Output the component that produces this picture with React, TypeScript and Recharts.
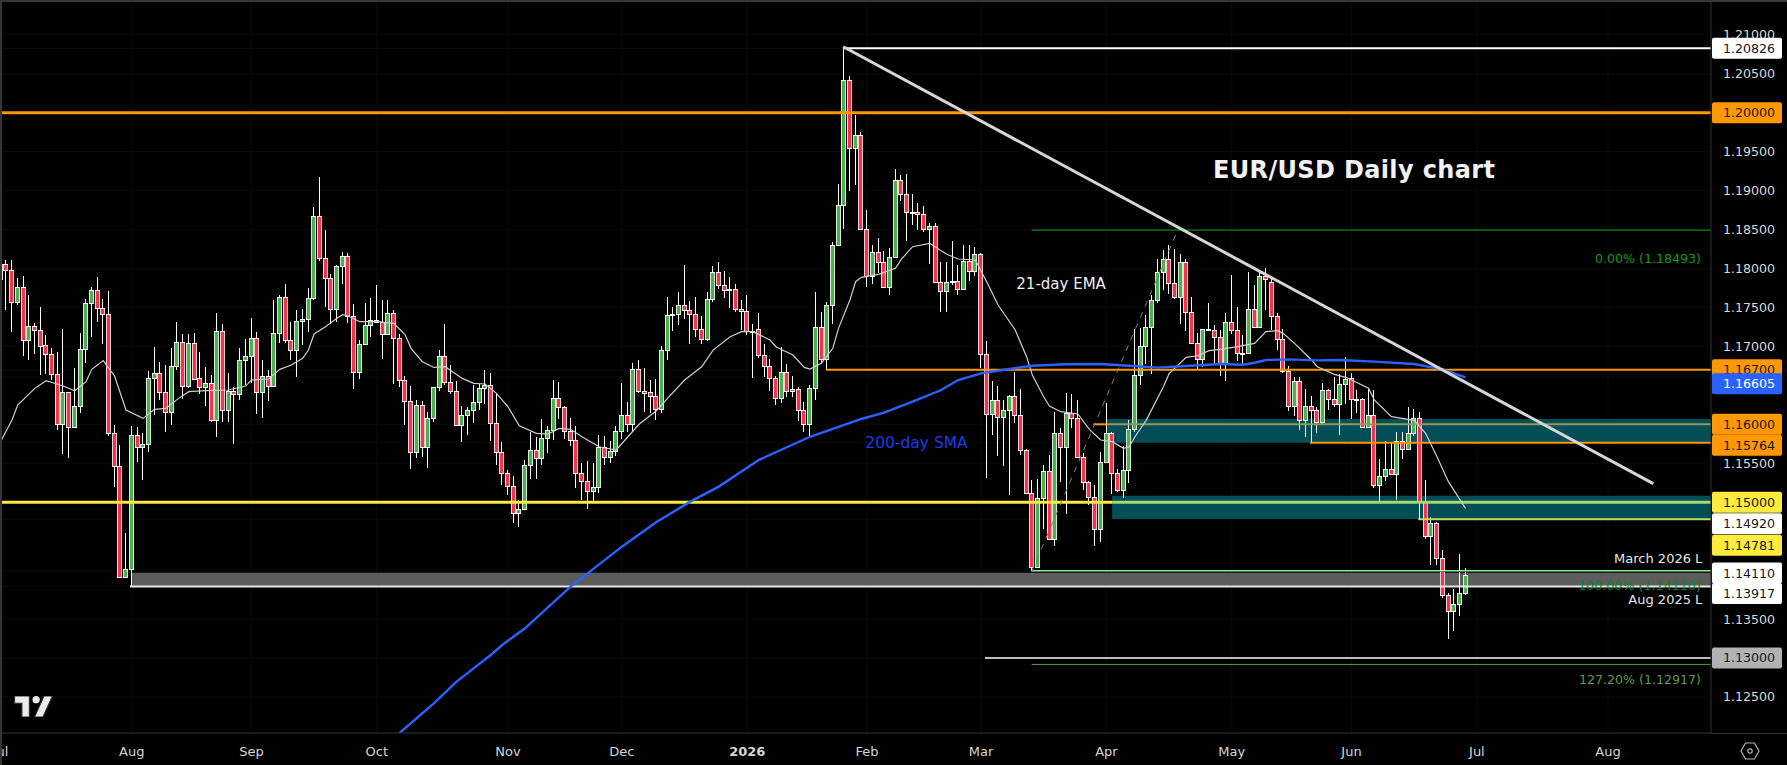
import { Bar, CartesianGrid, ComposedChart, Line, ReferenceArea, ReferenceDot, ReferenceLine, XAxis, YAxis } from "recharts";

// daily candles, 1 Jul 2025 - 29 Jun 2026 (index = trading day)
const opens = [
  1.17865,1.18054,1.17977,1.17566,1.17763,1.17078,1.17257,1.17206,1.17014,1.16898,
  1.16641,1.15999,1.1641,1.15961,1.1623,1.16962,1.17553,1.1772,1.17489,1.17412,
  1.15884,1.1546,1.14044,1.14138,1.15858,1.15712,1.15742,1.1659,1.16654,1.16419,
  1.16153,1.16744,1.17052,1.16487,1.17039,1.1659,1.16474,1.16526,1.16051,1.17193,
  1.16179,1.16423,1.16384,1.16821,1.16872,1.17103,1.1641,1.16615,1.16487,1.17168,
  1.1763,1.17078,1.16949,1.17321,1.17347,1.17617,1.18669,1.1813,1.17873,1.17475,
  1.1803,1.18156,1.17385,1.16666,1.17026,1.1727,1.17334,1.17308,1.17154,1.17424,
  1.17103,1.16564,1.16294,1.15639,1.16243,1.15703,1.16076,1.16474,1.16872,1.16538,
  1.16422,1.15986,1.16114,1.16179,1.16281,1.16461,1.165,1.16012,1.15639,1.1537,
  1.15204,1.14857,1.14917,1.15472,1.15665,1.15562,1.15819,1.15922,1.16333,1.16217,
  1.15909,1.15802,1.15371,1.15277,1.15148,1.152,1.15712,1.1558,1.1566,1.1592,
  1.1612,1.16,1.16705,1.16431,1.16409,1.16367,1.162,1.16949,1.17405,1.17411,
  1.17527,1.17463,1.17411,1.17219,1.17099,1.17604,1.17951,1.17792,1.1772,1.17732,
  1.17475,1.17458,1.17201,1.17219,1.16885,1.16743,1.16589,1.16333,1.16666,1.16422,
  1.16449,1.1618,1.16,1.16461,1.17244,1.16833,1.17535,1.18297,1.18811,1.20424,
  1.19543,1.1971,1.18503,1.17908,1.18207,1.18079,1.17766,1.18152,1.1914,1.18957,
  1.1872,1.18724,1.18696,1.18503,1.18541,1.1783,1.17715,1.17822,1.17844,1.17741,
  1.181,1.17972,1.18182,1.16898,1.16128,1.16316,1.16089,1.16179,1.16359,1.16115,
  1.15665,1.15114,1.14164,1.1505,1.15397,1.14523,1.15884,1.15712,1.1614,1.16076,
  1.15584,1.15263,1.1507,1.14652,1.1552,1.15884,1.1537,1.15156,1.15408,1.15935,
  1.16628,1.17,1.17244,1.17591,1.17959,1.1812,1.1781,1.17638,1.1808,1.17437,
  1.17047,1.16833,1.17219,1.17206,1.17116,1.16782,1.17308,1.17206,1.1691,1.16919,
  1.17475,1.17253,1.179,1.17831,1.17385,1.17099,1.1669,1.16238,1.16559,1.1605,
  1.1623,1.16179,1.16024,1.16435,1.1632,1.16256,1.16513,1.1659,1.16321,1.16321,
  1.1597,1.16115,1.15216,1.1534,1.15422,1.15358,1.15781,1.15679,1.15884,1.16077,
  1.15011,1.1457,1.14737,1.14279,1.13804,1.13598,1.13688,1.1383,
];
const highs = [
  1.18058,1.18109,1.18109,1.17874,1.17904,1.1766,1.17296,1.17501,1.17142,1.16975,
  1.16924,1.17219,1.16419,1.16718,1.17168,1.17604,1.17767,1.17891,1.17604,1.17711,
  1.15991,1.1573,1.14609,1.15978,1.15961,1.15884,1.16684,1.16992,1.16795,1.16761,
  1.16975,1.17313,1.17159,1.17159,1.17176,1.16928,1.1673,1.16628,1.17429,1.17287,
  1.16658,1.16483,1.16975,1.17091,1.17364,1.17185,1.16825,1.16697,1.17596,1.1766,
  1.17801,1.17313,1.17467,1.1748,1.17745,1.18785,1.1917,1.18494,1.17929,1.18045,
  1.18212,1.18199,1.17544,1.17082,1.17557,1.17621,1.17788,1.17595,1.17595,1.17467,
  1.17159,1.16619,1.16491,1.16311,1.16298,1.16153,1.16474,1.16953,1.17287,1.16761,
  1.16555,1.16234,1.16217,1.16504,1.16521,1.16692,1.16658,1.16397,1.15776,1.15412,
  1.15337,1.15028,1.15541,1.15905,1.1584,1.16067,1.15977,1.16568,1.16542,1.16238,
  1.16076,1.15977,1.15498,1.15528,1.15498,1.15862,1.1585,1.1578,1.1598,1.16525,
  1.1628,1.16782,1.16825,1.16718,1.16568,1.16576,1.17005,1.17638,1.17501,1.17698,
  1.18045,1.17582,1.17634,1.1739,1.17698,1.18032,1.18083,1.17963,1.17891,1.17801,
  1.17595,1.17655,1.17287,1.17424,1.1703,1.16838,1.16619,1.16996,1.16773,1.16619,
  1.16482,1.1628,1.165,1.17694,1.17437,1.17574,1.18336,1.19085,1.20826,1.20471,
  1.19971,1.19752,1.18751,1.18301,1.18387,1.18224,1.18259,1.19273,1.192,1.1921,
  1.1895,1.18845,1.18803,1.1858,1.1858,1.18079,1.18079,1.18353,1.1804,1.18302,
  1.18302,1.18272,1.182,1.1707,1.16556,1.16487,1.1631,1.16376,1.16667,1.16453,
  1.1568,1.15284,1.15298,1.15477,1.156,1.16153,1.15948,1.16406,1.16389,1.16312,
  1.15627,1.15271,1.15221,1.1564,1.16269,1.15895,1.1542,1.15725,1.16054,1.17219,
  1.1724,1.17403,1.17659,1.18118,1.1824,1.183,1.1825,1.1818,1.1812,1.17629,
  1.17167,1.17219,1.17552,1.1727,1.1721,1.17433,1.1792,1.17501,1.17146,1.1795,
  1.17788,1.1795,1.18,1.179,1.17424,1.17223,1.16748,1.16602,1.16611,1.16448,
  1.16363,1.16226,1.16525,1.16448,1.16611,1.1664,1.1686,1.16663,1.1644,1.16338,
  1.16453,1.1644,1.1555,1.1579,1.15756,1.15905,1.15905,1.16218,1.16192,1.16162,
  1.15285,1.14805,1.1475,1.14386,1.13838,1.13881,1.14335,1.14151,
];
const lows = [
  1.17865,1.17467,1.17189,1.17531,1.16877,1.16825,1.16902,1.16633,1.16645,1.16568,
  1.15926,1.15618,1.15571,1.15944,1.1614,1.16782,1.17125,1.17313,1.17031,1.1585,
  1.15195,1.14018,1.14044,1.13915,1.15507,1.15276,1.15644,1.16119,1.16303,1.15901,
  1.15991,1.16697,1.1632,1.1647,1.16568,1.16389,1.16226,1.1602,1.15841,1.16033,
  1.16029,1.15751,1.16303,1.16504,1.16526,1.16136,1.16085,1.16299,1.16483,1.17048,
  1.17048,1.16825,1.16611,1.17017,1.17176,1.17587,1.18087,1.1751,1.17287,1.17317,
  1.17805,1.17296,1.16452,1.1658,1.17017,1.1712,1.17296,1.16838,1.17146,1.16517,
  1.16482,1.1599,1.1543,1.15566,1.15579,1.1543,1.1602,1.16431,1.16508,1.16393,
  1.15986,1.15776,1.15853,1.1602,1.16183,1.1626,1.1579,1.15477,1.1522,1.15093,
  1.14737,1.14686,1.14905,1.15297,1.15306,1.15477,1.15626,1.15798,1.16067,1.15819,
  1.15712,1.15187,1.15028,1.14917,1.15015,1.15123,1.15482,1.155,1.156,1.158,
  1.159,1.159,1.16397,1.1615,1.1615,1.1605,1.1615,1.16825,1.17197,1.17274,
  1.17356,1.1703,1.17124,1.1703,1.17073,1.17574,1.17732,1.17621,1.17488,1.17445,
  1.1721,1.17137,1.16598,1.16846,1.1661,1.16431,1.1625,1.1628,1.16354,1.16354,
  1.1605,1.159,1.1582,1.1631,1.16782,1.16705,1.17287,1.18288,1.18507,1.19,
  1.19072,1.18494,1.17766,1.17801,1.17938,1.17754,1.17659,1.1813,1.18871,1.18345,
  1.18546,1.18503,1.18473,1.18058,1.1782,1.17433,1.17441,1.17788,1.1766,1.1772,
  1.17844,1.17895,1.16727,1.15314,1.15862,1.15593,1.15464,1.15088,1.16012,1.15605,
  1.151,1.14117,1.1415,1.14656,1.14505,1.14429,1.15251,1.14857,1.1595,1.15563,
  1.15156,1.14964,1.14442,1.14481,1.15498,1.15093,1.1512,1.15057,1.1525,1.15892,
  1.16504,1.16773,1.16645,1.17548,1.17724,1.1767,1.17608,1.17287,1.17201,1.1703,
  1.16705,1.16731,1.1721,1.16782,1.16624,1.16555,1.17167,1.16812,1.16773,1.16919,
  1.1724,1.1724,1.17467,1.1721,1.16953,1.1666,1.16174,1.16097,1.15926,1.15828,
  1.15763,1.15892,1.16,1.16174,1.16226,1.15862,1.16256,1.16072,1.1614,1.15957,
  1.15957,1.15186,1.15011,1.15272,1.1534,1.15028,1.15563,1.15679,1.15841,1.14784,
  1.14527,1.14189,1.14193,1.13765,1.13248,1.13338,1.13543,1.13808,
];
const closes = [
  1.18058,1.17977,1.17566,1.17763,1.17078,1.17257,1.17206,1.17009,1.16898,1.16641,
  1.15999,1.1641,1.15961,1.1623,1.16962,1.17553,1.1772,1.17489,1.17412,1.15884,
  1.1546,1.14044,1.14138,1.15858,1.15712,1.15742,1.1659,1.16654,1.16419,1.16153,
  1.16744,1.17052,1.16487,1.17039,1.16585,1.16474,1.16526,1.16051,1.17193,1.16179,
  1.16427,1.16384,1.16821,1.16872,1.17103,1.1641,1.16615,1.16487,1.17168,1.1763,
  1.17078,1.16949,1.17322,1.17347,1.17617,1.18669,1.1813,1.17873,1.17475,1.1803,
  1.18156,1.17385,1.16666,1.17026,1.1727,1.17334,1.17308,1.17154,1.17424,1.17103,
  1.16564,1.16294,1.15639,1.16243,1.15703,1.16076,1.16474,1.16872,1.16538,1.16422,
  1.15986,1.16114,1.16179,1.16281,1.16461,1.165,1.16012,1.15639,1.1537,1.15204,
  1.14857,1.14917,1.15472,1.15665,1.15562,1.15819,1.15922,1.16333,1.16217,1.15909,
  1.15802,1.15371,1.15277,1.15148,1.152,1.15712,1.1558,1.1566,1.1592,1.1612,
  1.16,1.16705,1.16431,1.16405,1.16367,1.162,1.16949,1.17398,1.17411,1.17527,
  1.17463,1.17411,1.17219,1.17099,1.17604,1.17951,1.17792,1.1772,1.17732,1.17475,
  1.17458,1.17201,1.17189,1.16885,1.16743,1.16589,1.16333,1.16666,1.16422,1.16453,
  1.1618,1.16,1.16461,1.17244,1.16833,1.17535,1.18297,1.18811,1.20424,1.19543,
  1.1971,1.18503,1.17908,1.18207,1.18079,1.17766,1.18152,1.1914,1.18957,1.1872,
  1.18724,1.187,1.18503,1.18541,1.1783,1.17715,1.17822,1.17844,1.17741,1.181,
  1.17972,1.18182,1.16898,1.16128,1.16316,1.16089,1.16179,1.16359,1.16115,1.15665,
  1.15113,1.14164,1.1505,1.15397,1.14523,1.15884,1.15712,1.1614,1.16076,1.15584,
  1.15263,1.1507,1.14652,1.1552,1.15884,1.1537,1.15156,1.15408,1.15935,1.16628,
  1.17,1.17244,1.17591,1.17959,1.1812,1.1781,1.17638,1.1808,1.17437,1.17047,
  1.16833,1.17219,1.17225,1.17116,1.16782,1.17308,1.17206,1.1691,1.16919,1.17475,
  1.17253,1.179,1.1786,1.17385,1.17099,1.1669,1.16238,1.16559,1.1605,1.1623,
  1.16179,1.16024,1.16435,1.1632,1.16256,1.16512,1.16586,1.16321,1.1631,1.1597,
  1.16115,1.15216,1.1534,1.15422,1.15358,1.15781,1.15679,1.15884,1.16077,1.15011,
  1.1457,1.14737,1.14279,1.13804,1.13598,1.13688,1.1383,1.14061,
];

// 21-day EMA, read at [bar index, price]
const ema21 = [
  [0,1.15777],[2,1.16055],[3,1.16247],[6,1.16461],[8,1.1656],[11,1.16491],[13,1.16431],[15,1.16547],[16,1.16705],[18,1.16817],
  [20,1.1662],[22,1.16183],[25,1.16076],[27,1.16192],[29,1.16205],[31,1.1632],[33,1.16419],[36,1.16431],[40,1.1644],[43,1.16491],
  [44,1.16568],[47,1.16581],[49,1.16705],[51,1.16761],[53,1.16846],[54,1.16953],[55,1.17159],[57,1.17253],[59,1.1736],[60,1.17407],
  [61,1.1739],[63,1.17317],[66,1.17317],[69,1.17296],[71,1.17146],[72,1.16975],[74,1.16803],[76,1.1673],[78,1.16739],[81,1.16589],
  [83,1.16525],[85,1.16517],[87,1.16397],[89,1.16226],[91,1.15982],[94,1.15883],[96,1.15875],[98,1.15947],[100,1.15935],[102,1.1584],
  [105,1.15712],[108,1.1567],[112,1.16],[115,1.1617],[117,1.16333],[120,1.16568],[123,1.16739],[125,1.16953],[128,1.17124],[130,1.17189],
  [132,1.17189],[135,1.17082],[136,1.16996],[139,1.16889],[141,1.1673],[142,1.16709],[144,1.16782],[146,1.16975],[147,1.17231],[149,1.17595],
  [150,1.17831],[151,1.17886],[154,1.17925],[157,1.18002],[158,1.18117],[160,1.1828],[163,1.18323],[166,1.18182],[168,1.18122],[171,1.18109],
  [173,1.17831],[175,1.17531],[178,1.1721],[180,1.16868],[181,1.16633],[183,1.16354],[184,1.16235],[186,1.16162],[189,1.16132],[191,1.15935],
  [193,1.15798],[195,1.15777],[197,1.15691],[198,1.15712],[199,1.1584],[201,1.16054],[204,1.16482],[205,1.1665],[208,1.16859],[210,1.1688],
  [212,1.16945],[214,1.16962],[217,1.16996],[220,1.17039],[222,1.17189],[224,1.17201],[225,1.17167],[227,1.17039],[230,1.16825],[231,1.16739],
  [234,1.16641],[236,1.16603],[240,1.16462],[241,1.16312],[244,1.16098],[248,1.1605],[250,1.15884],[252,1.15584],[254,1.15263],[257,1.14921],
];
// 200-day SMA
const sma200 = [
  [70,1.12037],[76,1.12418],[80,1.12696],[86,1.13038],[88,1.13167],[92,1.13381],[100,1.13916],[109,1.14429],[115,1.14742],[121,1.15007],
  [126,1.152],[133,1.15542],[142,1.1584],[151,1.16068],[155,1.1615],[160,1.1629],[165,1.1644],[168,1.16568],[172,1.16654],[177,1.1671],
  [181,1.16752],[187,1.1677],[193,1.16774],[198,1.16752],[203,1.16727],[208,1.16748],[214,1.16773],[218,1.16765],[220,1.1679],[222,1.16825],
  [226,1.16833],[231,1.1682],[235,1.16826],[241,1.16804],[248,1.16774],[253,1.16706],[257,1.16603],
];

const monthTicks = [0, 23, 44, 66, 89, 109, 131, 152, 172, 194, 216, 237, 259, 282];
const monthLabels = ["Jul", "Aug", "Sep", "Oct", "Nov", "Dec", "2026", "Feb", "Mar", "Apr", "May", "Jun", "Jul", "Aug"];
// only the scale numbers that no tag covers
const priceTicks = [1.125, 1.135, 1.155, 1.17, 1.175, 1.18, 1.185, 1.19, 1.195, 1.205, 1.21];

// tags on the price scale: value, shift off its level, fill, text
const priceTags = [
  [1.20826, 0, "#ffffff", "#131722"],
  [1.2, 0, "#ff9800", "#131722"],
  [1.167, 0, "#ff9800", "#131722"],
  [1.16605, 6.5, "#2962ff", "#ffffff"],
  [1.16, 0, "#ff9800", "#131722"],
  [1.15764, 2.6, "#ff9800", "#131722"],
  [1.15, 0, "#ffeb3b", "#131722"],
  [1.1492, 15.4, "#ffffff", "#131722"],
  [1.14781, 26, "#ffeb3b", "#131722"],
  [1.1411, 1.5, "#ffffff", "#131722"],
  [1.13917, 7, "#ffffff", "#131722"],
  [1.13, 0, "#b2b2b2", "#131722"],
];

const END = 300.05;
// levels: price, from bar, to bar, colour, width
const levels = [
  [1.20826, 148, END, "#ffffff", 2],
  [1.2, 0.25, END, "#ff9800", 3],
  [1.18493, 180.9, END, "#0ba51f", 1],
  [1.167, 144.8, END, "#ff9800", 2],
  [1.16, 191.7, 194.1, "#ff9800", 2],
  [1.16, 194.1, END, "#8f9a58", 2],
  [1.15764, 229.7, END, "#ff9800", 2],
  [1.15, 0.25, 195, "#ffeb3b", 3],
  [1.15, 195, END, "#a3d873", 3],
  [1.14781, 248.7, END, "#c2dc6b", 2],
  [1.1412, 180.9, END, "#ffffff", 1],
  [1.1411, 180.9, END, "#0ba51f", 1],
  [1.13917, 22.7, END, "#e6e6e6", 2],
  [1.13, 172.7, END, "#bdbdbd", 2],
  [1.12917, 180.9, END, "#4f9a3c", 1],
];
// shaded zones: bar from, to, low, high, colour
const zones = [
  [194.1, END, 1.15764, 1.16068, "#024e57"],
  [195, END, 1.14785, 1.15083, "#024e57"],
  [22.9, END, 1.13917, 1.14095, "#5c5c5c"],
];
// chart notes: text, bar, price, anchor, size, weight, colour, spacing
const notes = [
  ["EUR/USD Daily chart", 212.7, 1.19264, "start", 24, 700, "#f2f2f2", 0.35],
  ["21-day EMA", 178.2, 1.17795, "start", 15, 400, "#eeeeee", 0],
  ["200-day SMA", 151.7, 1.15759, "start", 15.5, 400, "#1a3ce6", 0],
  ["0.00% (1.18493)", 298.3, 1.18124, "end", 12.6, 400, "#0a9a1e", 0],
  ["March 2026 L", 298.55, 1.14272, "end", 13, 400, "#e6e6e6", 0],
  ["100.00% (1.14110)", 298.3, 1.13934, "end", 12.7, 400, "#11802a", 0],
  ["Aug 2025 L", 298.55, 1.13756, "end", 13, 400, "#e6e6e6", 0],
  ["127.20% (1.12917)", 298.3, 1.12729, "end", 12.6, 400, "#5f9b46", 0],
];
const trendLine = [[147.84, 1.20847], [289.95, 1.15238]];
const fibSwing = [[180.9, 1.1411], [206.5, 1.18493]];

const emaAt = new Map(ema21.map(([i, v]) => [i, v]));
const smaAt = new Map(sma200.map(([i, v]) => [i, v]));
const rows = opens.map((open, i) => ({
  i,
  open,
  high: highs[i],
  low: lows[i],
  close: closes[i],
  range: [lows[i], highs[i]],
  ema: emaAt.get(i) ?? null,
  sma: smaAt.get(i) ?? null,
}));

const Candle = (props: any) => {
  const { x, y, width, height, payload } = props;
  if (!payload || !height) return null;
  const perUnit = height / (payload.high - payload.low);
  const py = (p: number) => y + (payload.high - p) * perUnit;
  const left = Math.round(x + width / 2 - 2.5);
  const top = Math.round(py(Math.max(payload.open, payload.close)));
  const bottom = Math.max(Math.round(py(Math.min(payload.open, payload.close))), top + 1);
  const up = payload.close >= payload.open;
  return (
    <g>
      <rect x={left + 2} y={Math.round(y)} width={1} height={Math.max(Math.round(height), 1)} fill="#ffffff" />
      <rect x={left} y={top} width={5} height={bottom - top + 1} fill="#ffffff" />
      {bottom - top > 1 && <rect x={left + 0.75} y={top + 1} width={3.5} height={bottom - top - 1} fill={up ? "#4caf50" : "#f7324a"} />}
    </g>
  );
};

const FONT = "'DejaVu Sans', sans-serif";

const MonthTick = ({ x, payload }: any) => {
  const label = monthLabels[monthTicks.indexOf(payload.value)];
  return (
    <text x={x} y={751} textAnchor="middle" dominantBaseline="central" fontFamily={FONT} fontSize={13}
      fontWeight={label === "2026" ? 700 : 400} fill="#d6d6d6">{label}</text>
  );
};

const PriceTick = ({ y, payload }: any) => {
  const tag = priceTags.find((t) => t[0] === payload.value);
  const cy = y + (tag ? (tag[1] as number) : 0);
  return (
    <g>
      {tag && <rect x={1712} y={cy - 10.5} width={70} height={21} rx={2} fill={tag[2] as string} />}
      <text x={1723} y={cy} dominantBaseline="central" fontFamily={FONT} fontSize={12.6}
        fill={tag ? (tag[3] as string) : "#d8d8d8"}>{payload.value.toFixed(5)}</text>
    </g>
  );
};

const Note = ({ cx, cy, note }: any) => (
  <text x={cx} y={cy} textAnchor={note[3]} dominantBaseline="central" fontFamily={FONT} fontSize={note[4]}
    fontWeight={note[5]} fill={note[6]} letterSpacing={note[7]}>{note[0]}</text>
);

export default function App() {
  return (
    <div style={{ position: "absolute", left: 0, top: 0, width: 1787, height: 765, background: "#000", overflow: "hidden" }}>
      <ComposedChart width={1787} height={765} data={rows} margin={{ top: 2, right: 0, bottom: 0, left: 2 }}>
        <CartesianGrid stroke="#0a0a0a" />
        <XAxis dataKey="i" type="number" domain={[0.2456, 300.07]} allowDataOverflow ticks={monthTicks} interval={0}
          height={32} tick={<MonthTick />} tickLine={false} axisLine={{ stroke: "#2e2e2e" }} />
        <YAxis orientation="right" type="number" domain={[1.12037, 1.21421]} allowDataOverflow width={76}
          ticks={[...priceTicks, ...priceTags.map((t) => t[0] as number)]} interval={0} tick={<PriceTick />}
          tickLine={false} axisLine={{ stroke: "#2e2e2e" }} />

        {zones.map((z, k) => (
          <ReferenceArea key={k} x1={z[0] as number} x2={z[1] as number} y1={z[2] as number} y2={z[3] as number}
            fill={z[4] as string} fillOpacity={1} stroke="none" />
        ))}
        {levels.map((l, k) => (
          <ReferenceLine key={k} segment={[{ x: l[1] as number, y: l[0] as number }, { x: l[2] as number, y: l[0] as number }]}
            stroke={l[3] as string} strokeWidth={l[4] as number} />
        ))}
        <ReferenceLine segment={[{ x: fibSwing[0][0], y: fibSwing[0][1] }, { x: fibSwing[1][0], y: fibSwing[1][1] }]}
          stroke="#808080" strokeWidth={1} strokeDasharray="6 6" />

        <Line dataKey="ema" type="linear" stroke="#cfcfcf" strokeWidth={1.2} dot={false} connectNulls isAnimationActive={false} />
        <Line dataKey="sma" type="linear" stroke="#2962ff" strokeWidth={2.4} dot={false} connectNulls isAnimationActive={false} />
        <Bar dataKey="range" barSize={5} shape={<Candle />} isAnimationActive={false} />

        <ReferenceLine segment={[{ x: trendLine[0][0], y: trendLine[0][1] }, { x: trendLine[1][0], y: trendLine[1][1] }]}
          stroke="#d6d6d6" strokeWidth={3} />
        {notes.map((n, k) => (
          <ReferenceDot key={k} x={n[1] as number} y={n[2] as number} r={0} shape={(p: any) => <Note {...p} note={n} />} />
        ))}
      </ComposedChart>

      {/* pane frame, logo and scale button */}
      <div style={{ position: "absolute", left: 0, top: 0, width: 1787, height: 2, background: "#363636" }} />
      <div style={{ position: "absolute", left: 0, top: 0, width: 2, height: 765, background: "#363636" }} />
      <div style={{ position: "absolute", left: 1711, top: 733, width: 76, height: 1, background: "#2e2e2e" }} />
      <svg style={{ position: "absolute", left: 14, top: 696 }} width={39} height={21} viewBox="0 0 36 20">
        <path d="M0 0H14V20H7V7H0Z M28 0H36L27 20H19Z" fill="#ececec" stroke="#333" strokeWidth={1} />
        <circle cx={20.5} cy={3.5} r={3.5} fill="#ececec" />
      </svg>
      <svg style={{ position: "absolute", left: 1740, top: 742 }} width={20} height={18} viewBox="0 0 20 18">
        <path d="M5.5 1H14.5L19 9L14.5 17H5.5L1 9Z" fill="none" stroke="#b4b4b4" strokeWidth={1.2} />
        <circle cx={10} cy={9} r={2.2} fill="none" stroke="#b4b4b4" strokeWidth={1.2} />
      </svg>
    </div>
  );
}
